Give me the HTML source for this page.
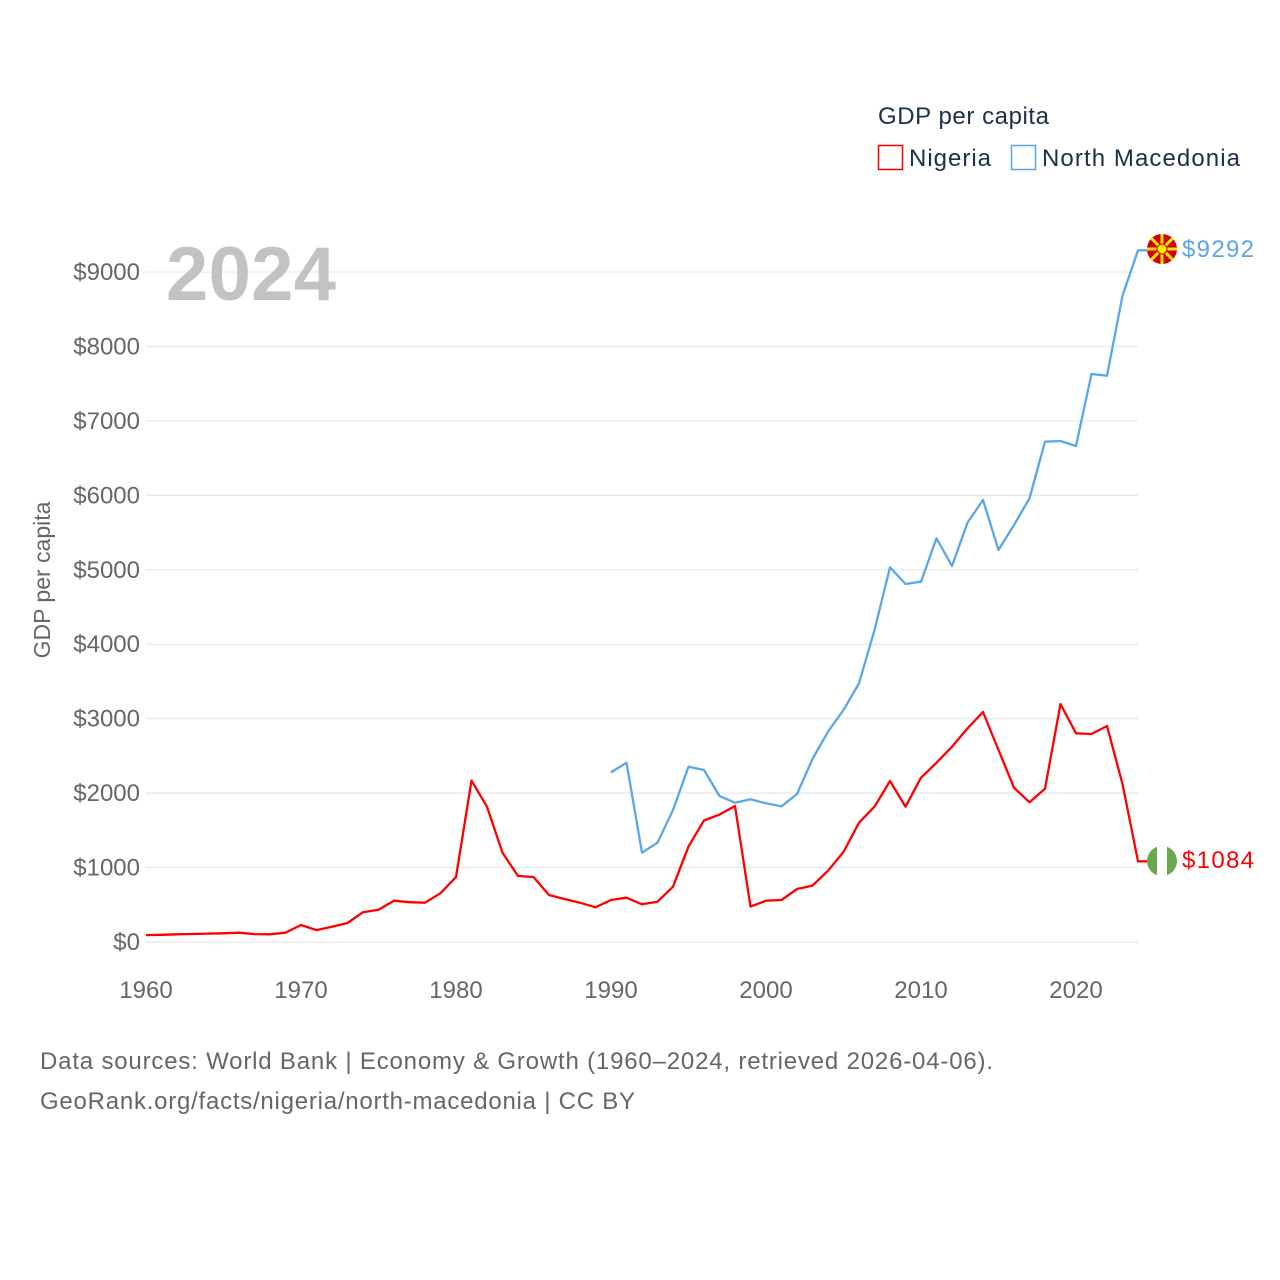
<!DOCTYPE html>
<html><head><meta charset="utf-8"><style>
body{margin:0;background:#fff;}
svg{display:block;font-family:"Liberation Sans",sans-serif;}
</style></head><body>
<svg id="chart" width="1280" height="1280" viewBox="0 0 1280 1280">
<rect width="1280" height="1280" fill="#fff"/>
<g id="grid"></g>
<g id="yticks"></g>
<g id="xticks"></g>
<text x="166" y="300" font-size="76" font-weight="bold" fill="#c2c2c2" textLength="170">2024</text>
<text transform="translate(50,580) rotate(-90)" text-anchor="middle" font-size="23" fill="#666">GDP per capita</text>
<g id="series"></g>
<g>
<text x="878" y="124" font-size="24" fill="#1c2e4a" textLength="171">GDP per capita</text>
<g><rect x="878.5" y="145.5" width="24" height="24" fill="none" stroke="#f00" stroke-width="1.5"/><text x="909" y="166" font-size="24" fill="#1c2e4a" textLength="82">Nigeria</text></g>
<g><rect x="1011.5" y="145.5" width="24" height="24" fill="none" stroke="#5ba6e8" stroke-width="1.5"/><text x="1042" y="166" font-size="24" fill="#1c2e4a" textLength="198">North Macedonia</text></g>
</g>
<g>
<circle cx="1162" cy="249" r="15" fill="#d20000"/>
<g stroke="#ffe600" stroke-width="3">
<line x1="1162" y1="234" x2="1162" y2="264"/><line x1="1147" y1="249" x2="1177" y2="249"/>
<line x1="1151" y1="238" x2="1173" y2="260"/><line x1="1173" y1="238" x2="1151" y2="260"/></g>
<circle cx="1162" cy="249" r="5" fill="#ffe600" stroke="#d20000" stroke-width="1"/>
</g>
<text x="1182" y="257" font-size="24" fill="#5ba6e8" textLength="72">$9292</text>
<g>
<clipPath id="cc"><circle cx="1162" cy="861" r="15"/></clipPath>
<g clip-path="url(#cc)"><rect x="1147" y="846" width="30" height="30" fill="#6aa84f"/><rect x="1157" y="846" width="10" height="30" fill="#fff"/></g>
</g>
<text x="1182" y="868" font-size="24" fill="#f00" textLength="72">$1084</text>
<text x="40" y="1069" font-size="24" fill="#666" textLength="953">Data sources: World Bank | Economy &amp; Growth (1960–2024, retrieved 2026-04-06).</text>
<text x="40" y="1109" font-size="24" fill="#666" textLength="595">GeoRank.org/facts/nigeria/north-macedonia | CC BY</text>
</svg>
<script>
const years=[];for(let y=1960;y<=2024;y++)years.push(y);
const nigeria=[93,97,104,108,113,117,125,106,103,125,228,160,205,255,400,434,555,535,528,655,872,2167,1818,1200,887,873,631,578,528,466,564,595,506,542,743,1281,1634,1711,1827,475,555,564,712,757,958,1209,1603,1818,2163,1818,2207,2409,2624,2870,3090,2579,2073,1877,2060,3197,2803,2794,2902,2122,1084];
const macedoniaYears=[1990,1991,1992,1993,1994,1995,1996,1997,1998,1999,2000,2001,2002,2003,2004,2005,2006,2007,2008,2009,2010,2011,2012,2013,2014,2015,2016,2017,2018,2019,2020,2021,2022,2023,2024];
const macedonia=[2279,2409,1200,1334,1773,2355,2311,1961,1871,1917,1863,1823,1988,2458,2825,3117,3475,4190,5033,4809,4840,5423,5051,5633,5938,5266,5602,5960,6721,6730,6663,7630,7608,8682,9292];
const yTicks=[0,1000,2000,3000,4000,5000,6000,7000,8000,9000];
const xTicks=[1960,1970,1980,1990,2000,2010,2020];
const NS="http://www.w3.org/2000/svg";
const X=y=>146+(y-1960)*15.5;
const Y=v=>942-v*0.07444;
function mk(tag,attrs,parent){const e=document.createElementNS(NS,tag);for(const k in attrs)e.setAttribute(k,attrs[k]);parent.appendChild(e);return e;}
const grid=document.getElementById('grid'),yt=document.getElementById('yticks'),xt=document.getElementById('xticks'),ser=document.getElementById('series');
yTicks.forEach(v=>{
 const l=mk('line',{x1:146,x2:1138,y1:Y(v),y2:Y(v),stroke:'#e6e6e6','stroke-width':1.2},grid);
 
 
 const t=mk('text',{x:140,y:Y(v)+8,'text-anchor':'end','font-size':24,fill:'#666'},yt);
 t.textContent='$'+v;
 
 
});
xTicks.forEach(y=>{
 const t=mk('text',{x:X(y),y:998,'text-anchor':'middle','font-size':24,fill:'#666'},xt);
 t.textContent=y;
 
 
});
function line(xs,vs,color,name){
 let d=xs.map((y,i)=>(i?'L':'M')+X(y).toFixed(1)+' '+Y(vs[i]).toFixed(1)).join(' ');
 d+=' L'+(X(xs[xs.length-1])+9)+' '+Y(vs[vs.length-1]).toFixed(1);
 const p=mk('path',{d:d,fill:'none',stroke:color,'stroke-width':2.3,'stroke-linejoin':'round'},ser);
 
 
}
line(macedoniaYears,macedonia,'#5ba6e8','line-north-macedonia');
line(years,nigeria,'#f00','line-nigeria');
</script>
</body></html>
